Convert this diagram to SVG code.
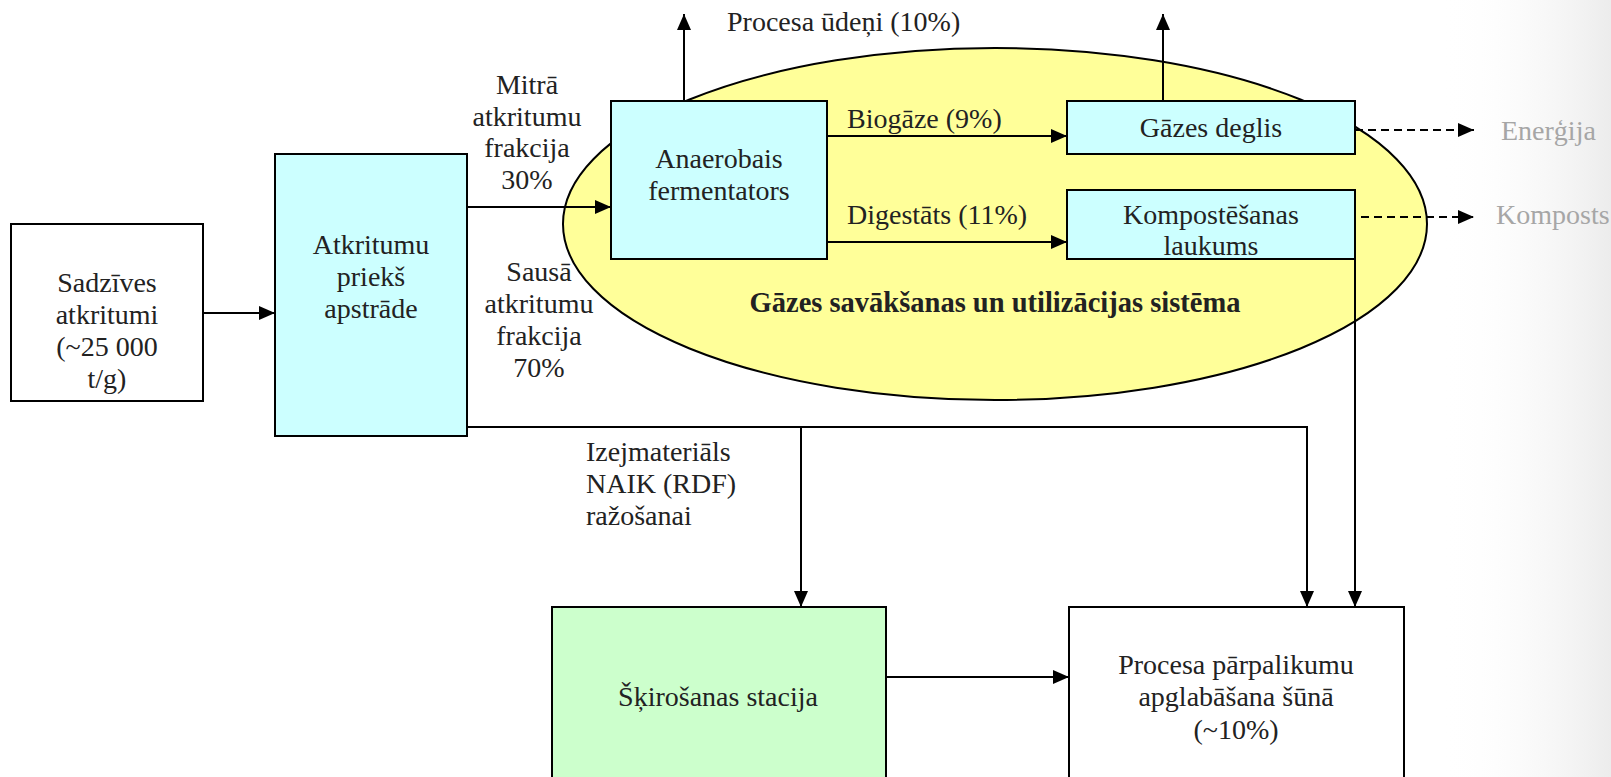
<svg xmlns="http://www.w3.org/2000/svg" width="1611" height="777" viewBox="0 0 1611 777">
<style>
.t{font-family:"Liberation Serif","DejaVu Serif",serif;font-size:28px;fill:#222}
.c{text-anchor:middle}
.g{fill:#a6a6a6}
.b{font-weight:bold;font-size:28.5px}
.box{stroke:#000;stroke-width:2}
.ln{fill:none;stroke:#000;stroke-width:2}
.ds{fill:none;stroke:#000;stroke-width:2;stroke-dasharray:8 5}
</style>
<defs>
<marker id="ah" markerUnits="userSpaceOnUse" markerWidth="18" markerHeight="16" refX="16" refY="7" orient="auto">
<path d="M0,0 L16,7 L0,14 z" fill="#000"/>
</marker>
<linearGradient id="bg" x1="0" y1="0" x2="1" y2="0">
<stop offset="0" stop-color="#fff" stop-opacity="0"/>
<stop offset="1" stop-color="#ececec"/>
</linearGradient>
</defs>
<rect width="1611" height="777" fill="#fff"/>
<rect x="1440" y="0" width="171" height="777" fill="url(#bg)"/>

<g id="ellipse">
<ellipse cx="995" cy="224" rx="432" ry="176" fill="#ffff99" stroke="#000" stroke-width="2"/>
<text class="t c b" x="995" y="312">Gāzes savākšanas un utilizācijas sistēma</text>
</g>

<g id="connectors">
<path class="ln" d="M203,313 H275" marker-end="url(#ah)"/>
<path class="ln" d="M467,207 H611" marker-end="url(#ah)"/>
<path class="ln" d="M684,101 V14" marker-end="url(#ah)"/>
<path class="ln" d="M827,136 H1067" marker-end="url(#ah)"/>
<path class="ln" d="M827,242 H1067" marker-end="url(#ah)"/>
<path class="ln" d="M1163,101 V14" marker-end="url(#ah)"/>
<path class="ds" d="M1355,130 H1474" marker-end="url(#ah)"/>
<path class="ds" d="M1348,217 H1474" marker-end="url(#ah)"/>
<path class="ln" d="M1355,259 V607" marker-end="url(#ah)"/>
<path class="ln" d="M467,427 H1307 V607" marker-end="url(#ah)"/>
<path class="ln" d="M801,427 V607" marker-end="url(#ah)"/>
<path class="ln" d="M886,677 H1069" marker-end="url(#ah)"/>
</g>

<g id="labels">
<text class="t c"><tspan x="527" y="94">Mitrā</tspan><tspan x="527" y="126">atkritumu</tspan><tspan x="527" y="157">frakcija</tspan><tspan x="527" y="189">30%</tspan></text>
<text class="t c"><tspan x="539" y="281">Sausā</tspan><tspan x="539" y="313">atkritumu</tspan><tspan x="539" y="345">frakcija</tspan><tspan x="539" y="377">70%</tspan></text>
<text class="t" x="727" y="31">Procesa ūdeņi (10%)</text>
<text class="t" x="847" y="128">Biogāze (9%)</text>
<text class="t" x="847" y="224">Digestāts (11%)</text>
<text class="t g" x="1501" y="140">Enerģija</text>
<text class="t g" x="1496" y="224">Komposts</text>
<text class="t"><tspan x="586" y="461">Izejmateriāls</tspan><tspan x="586" y="493">NAIK (RDF)</tspan><tspan x="586" y="525">ražošanai</tspan></text>
</g>

<g id="sadzives">
<rect class="box" x="11" y="224" width="192" height="177" fill="#fff"/>
<text class="t c"><tspan x="107" y="292">Sadzīves</tspan><tspan x="107" y="324">atkritumi</tspan><tspan x="107" y="356">(~25 000</tspan><tspan x="107" y="388">t/g)</tspan></text>
</g>

<g id="atkritumu">
<rect class="box" x="275" y="154" width="192" height="282" fill="#ccffff"/>
<text class="t c"><tspan x="371" y="254">Atkritumu</tspan><tspan x="371" y="286">priekš</tspan><tspan x="371" y="318">apstrāde</tspan></text>
</g>

<g id="anaerobais">
<rect class="box" x="611" y="101" width="216" height="158" fill="#ccffff"/>
<text class="t c"><tspan x="719" y="168">Anaerobais</tspan><tspan x="719" y="200">fermentators</tspan></text>
</g>

<g id="deglis">
<rect class="box" x="1067" y="101" width="288" height="53" fill="#ccffff"/>
<text class="t c" x="1211" y="137">Gāzes deglis</text>
</g>

<g id="kompostesana">
<rect class="box" x="1067" y="190" width="288" height="69" fill="#ccffff"/>
<text class="t c"><tspan x="1211" y="224">Kompostēšanas</tspan><tspan x="1211" y="255">laukums</tspan></text>
</g>

<g id="skirosana">
<rect class="box" x="552" y="607" width="334" height="185" fill="#ccffcc"/>
<text class="t c" x="718" y="706">Šķirošanas stacija</text>
</g>

<g id="poligons">
<rect class="box" x="1069" y="607" width="335" height="185" fill="#fff"/>
<text class="t c"><tspan x="1236" y="674">Procesa pārpalikumu</tspan><tspan x="1236" y="706">apglabāšana šūnā</tspan><tspan x="1236" y="739">(~10%)</tspan></text>
</g>
</svg>
